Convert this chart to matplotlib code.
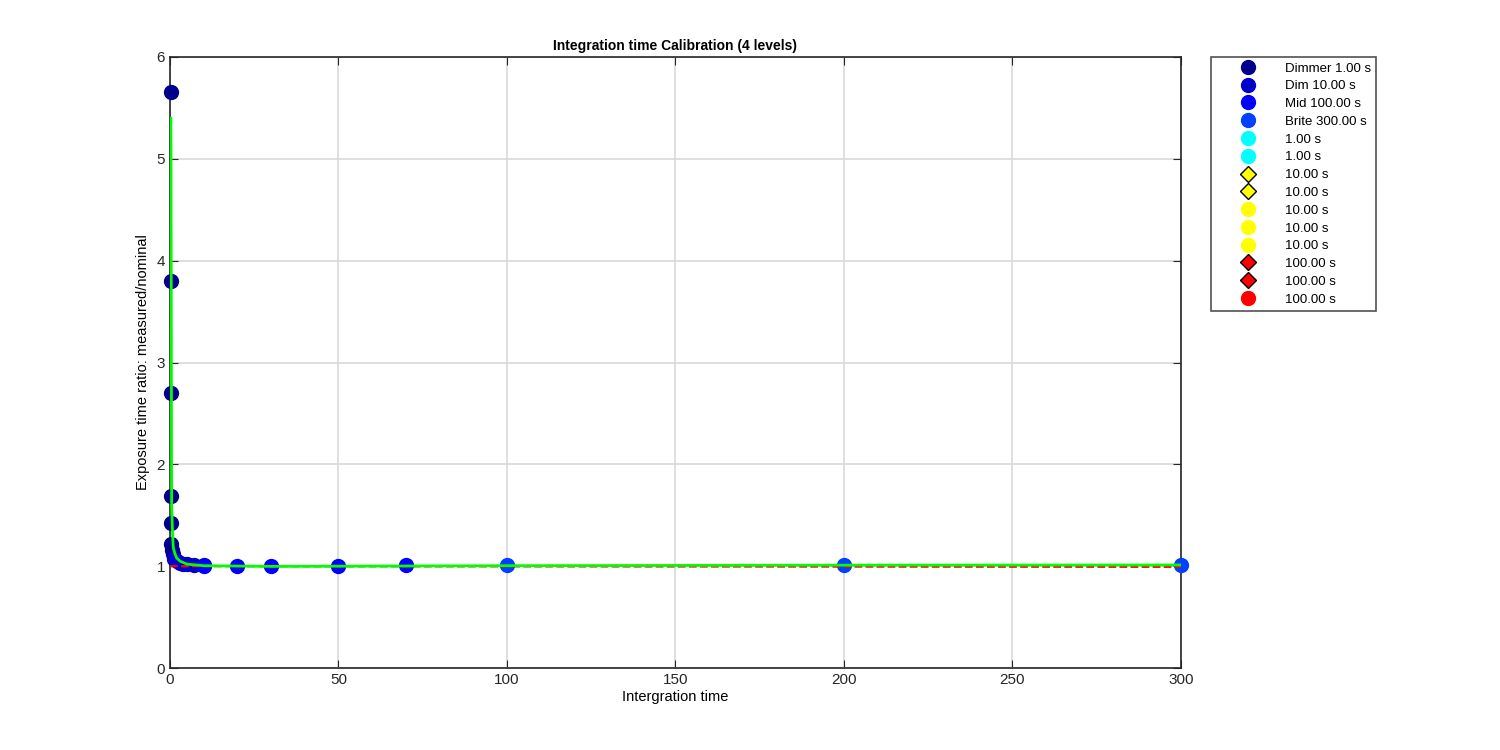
import matplotlib.pyplot as plt

plt.rcParams["font.family"] = ["Liberation Sans", "DejaVu Sans"]

## dados
dimmer_x = [0.3, 0.3, 0.3, 0.3, 0.35, 0.4, 0.6, 0.9]
dimmer_y = [5.66, 3.80, 2.70, 1.69, 1.42, 1.22, 1.16, 1.12]
dim_x = [1.3, 2, 3, 4, 5, 7, 10]
dim_y = [1.07, 1.05, 1.035, 1.025, 1.02, 1.015, 1.01]
mid_x = [10, 20, 30, 50, 70]
mid_y = [1.005, 1.005, 1.005, 1.005, 1.008]
brite_x = [100, 200, 300]
brite_y = [1.01, 1.015, 1.015]

fit_x = [0.3, 0.5, 0.8, 1.0, 1.5, 2, 3, 5, 10, 30, 50, 100, 200, 300]
fit_y = [5.4, 1.6, 1.3, 1.18, 1.12, 1.08, 1.05, 1.02, 1.005, 0.998, 1.0, 1.005, 1.01, 1.012]
ref_x = [0, 300]
ref_y = [1.0, 0.993]

legenda = ["Dimmer 1.00 s", "Dim 10.00 s", "Mid 100.00 s", "Brite 300.00 s",
           "1.00 s", "1.00 s", "10.00 s", "10.00 s", "10.00 s", "10.00 s", "10.00 s",
           "100.00 s", "100.00 s", "100.00 s"]

fig = plt.figure(figsize=(15, 7.5), dpi=100)
ax = fig.add_axes([0.1133, 0.1093, 0.674, 0.8147])

ms = 10
ax.plot(dimmer_x, dimmer_y, "o", color=(0, 0, 0.55), ms=ms, label=legenda[0], zorder=3, clip_on=False)
ax.plot(dim_x, dim_y, "o", color=(0, 0, 0.8), ms=ms, label=legenda[1], zorder=3, clip_on=False)
ax.plot(mid_x, mid_y, "o", color=(0, 0, 1), ms=ms, label=legenda[2], zorder=3, clip_on=False)
ax.plot(brite_x, brite_y, "o", color=(0, 0.25, 1), ms=ms, label=legenda[3], zorder=3, clip_on=False)
## series vazias so para a legenda
ax.plot([], [], "o", color="cyan", ms=ms, label=legenda[4])
ax.plot([], [], "o", color="cyan", ms=ms, label=legenda[5])
ax.plot([], [], "D", color="yellow", mec="black", ms=8, label=legenda[6])
ax.plot([], [], "D", color="yellow", mec="black", ms=8, label=legenda[7])
ax.plot([], [], "o", color="yellow", ms=ms, label=legenda[8])
ax.plot([], [], "o", color="yellow", ms=ms, label=legenda[9])
ax.plot([], [], "o", color="yellow", ms=ms, label=legenda[10])
ax.plot([], [], "D", color="red", mec="black", ms=8, label=legenda[11])
ax.plot([], [], "D", color="red", mec="black", ms=8, label=legenda[12])
ax.plot([], [], "o", color="red", ms=ms, label=legenda[13])

ax.plot(ref_x, ref_y, "--", color="red", lw=1.5, zorder=4)
ax.plot(fit_x, fit_y, "-", color=(0, 1, 0), lw=2, zorder=5)

ax.set_xlim(0, 300)
ax.set_ylim(0, 6)
ax.set_xticks([0, 50, 100, 150, 200, 250, 300])
ax.set_yticks([0, 1, 2, 3, 4, 5, 6])
ax.grid(True, color="#d9d9d9", lw=1.2)
ax.set_axisbelow(True)
ax.tick_params(direction="in", top=True, right=True, length=6, labelsize=11, color="#262626", labelcolor="#262626")
for s in ax.spines.values():
    s.set_color("#262626")
    s.set_linewidth(1.2)

ax.set_title("Integration time Calibration (4 levels)", fontsize=10, fontweight="bold", pad=5)
ax.set_xlabel("Intergration time", fontsize=10.5, labelpad=2)
ax.set_ylabel("Exposure time ratio: measured/nominal", fontsize=10.5, labelpad=5)

leg = ax.legend(loc="upper left", bbox_to_anchor=(1.03, 1.0), borderaxespad=0, fontsize=9.5,
                fancybox=False, edgecolor="#262626", labelspacing=0.42, handlelength=4.8,
                handletextpad=0.35, borderpad=0.4, numpoints=1)
leg.get_frame().set_linewidth(1.2)

plt.savefig("out.png")
